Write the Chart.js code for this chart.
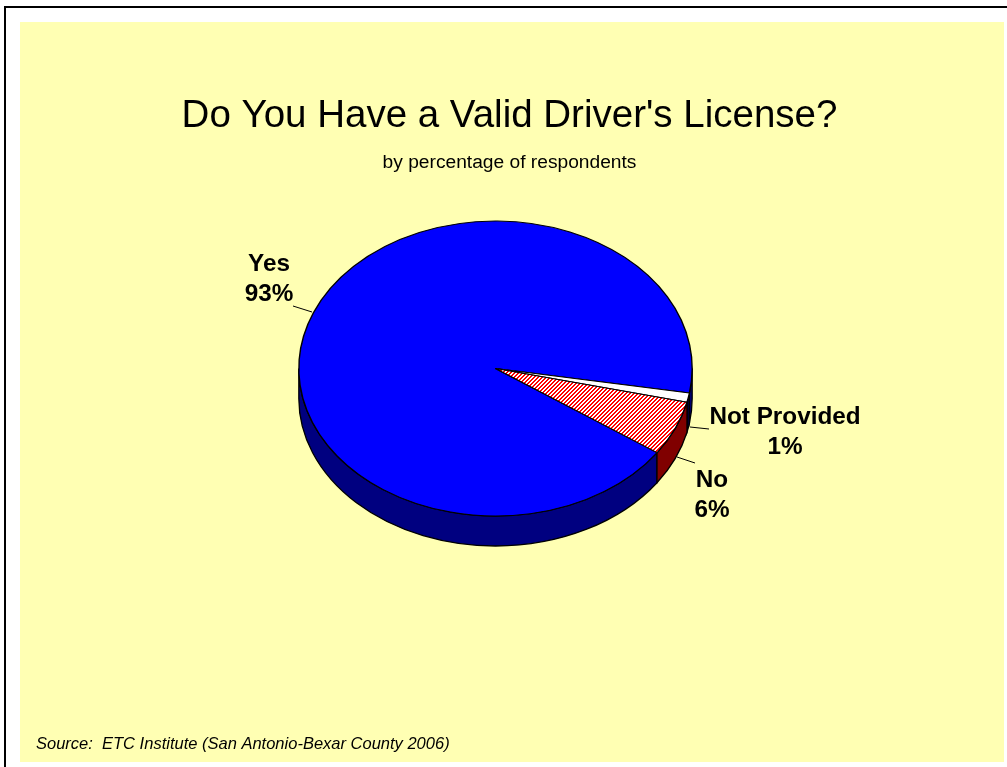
<!DOCTYPE html>
<html>
<head>
<meta charset="utf-8">
<title>Do You Have a Valid Driver's License?</title>
<script src="https://cdn.jsdelivr.net/npm/chart.js@4"></script>
<style>
  html, body { margin: 0; padding: 0; background: #fff; overflow: hidden; }
  #frame { position: absolute; left: 4px; top: 6px; width: 1003px; height: 761px; border-left: 2px solid #000; border-top: 2px solid #000; box-sizing: border-box; }
  #panel { position: absolute; left: 20px; top: 22px; width: 984px; height: 740px; background: #ffffb3; }
  #chart { position: absolute; left: 0; top: 0; }
</style>
</head>
<body>
<div id="frame"></div>
<div id="panel"></div>
<canvas id="chart" width="1007" height="767"></canvas>
<script>
const categories = ['Yes', 'Not Provided', 'No'];
const values = [93, 1, 6];
const titleText = "Do You Have a Valid Driver's License?";
const subtitleText = 'by percentage of respondents';
const sourceText = 'Source:  ETC Institute (San Antonio-Bexar County 2006)';

// look of the tilted pie
const topColors = ['#0000ff', '#ffffff', null];
const wallColors = ['#000080', '#000040', '#800000'];
const tilt = 0.75;
const depth = 30;
const pieX = 495.5;
const pieY = 368.5;

// where the labels and their leader lines go
const labelSpots = [
  { x: 269, y: 264, line: [293, 306, 312, 312] },
  { x: 785, y: 417, line: [690, 427, 709, 429] },
  { x: 712, y: 480, line: [677, 457, 695, 463] }
];

// red and white diagonal stripes, set pixel by pixel so they stay crisp
function hatch() {
  const tile = document.createElement('canvas');
  tile.width = 4;
  tile.height = 4;
  const c = tile.getContext('2d');
  c.fillStyle = '#fff';
  c.fillRect(0, 0, 4, 4);
  c.fillStyle = '#ff0000';
  for (let y = 0; y < 4; y++) {
    for (let x = 0; x < 4; x++) {
      if ((x + y) % 4 < 2) c.fillRect(x, y, 1, 1);
    }
  }
  const p = c.createPattern(tile, 'repeat');
  p.setTransform(new DOMMatrix().scale(1, 1 / tilt));
  return p;
}

const canvas = document.getElementById('chart');
const ctx = canvas.getContext('2d');

// squash the library's pie into an ellipse and give it a side wall
const tiltPlugin = {
  id: 'tiltPlugin',
  beforeDatasetsDraw(chart) {
    const c = chart.ctx;
    const arcs = chart.getDatasetMeta(0).data;
    const cx = arcs[0].x, cy = arcs[0].y;
    c.save();
    // side wall first, only the part facing the viewer
    arcs.forEach((arc, i) => {
      const r = arc.outerRadius;
      [[0, Math.PI], [2 * Math.PI, 3 * Math.PI]].forEach(([lo, hi]) => {
        const a0 = Math.max(arc.startAngle, lo);
        const a1 = Math.min(arc.endAngle, hi);
        if (a1 <= a0) return;
        c.beginPath();
        c.ellipse(pieX, pieY, r, r * tilt, 0, a0, a1);
        c.ellipse(pieX, pieY + depth, r, r * tilt, 0, a1, a0, true);
        c.closePath();
        c.fillStyle = wallColors[i];
        c.fill();
        c.strokeStyle = '#000';
        c.lineWidth = 1.3;
        c.stroke();
      });
    });
    c.restore();
    c.save();
    c.imageSmoothingEnabled = false;
    c.translate(pieX, pieY);
    c.scale(1, tilt);
    c.translate(-cx, -cy);
  },
  afterDatasetsDraw(chart) {
    chart.ctx.restore();
  },
  afterDraw(chart) {
    const c = chart.ctx;
    c.save();
    c.strokeStyle = '#000';
    c.lineWidth = 1;
    c.fillStyle = '#000';
    c.textAlign = 'center';
    c.textBaseline = 'middle';
    c.font = 'bold 24.3px "Liberation Sans"';
    labelSpots.forEach((s, i) => {
      c.beginPath();
      c.moveTo(s.line[0], s.line[1]);
      c.lineTo(s.line[2], s.line[3]);
      c.stroke();
      c.fillText(categories[i], s.x, s.y);
      c.fillText(values[i] + '%', s.x, s.y + 30);
    });
    c.textAlign = 'left';
    c.font = 'italic 16.5px "Liberation Sans"';
    c.fillText(sourceText, 36, 744);
    c.restore();
  }
};

new Chart(ctx, {
  type: 'pie',
  data: {
    labels: categories,
    datasets: [{
      data: values,
      backgroundColor: topColors.map(col => col || hatch()),
      borderColor: '#000',
      borderWidth: 1.4
    }]
  },
  options: {
    responsive: false,
    animation: false,
    rotation: 124.8,
    layout: { padding: { left: 12, right: 0, top: 0, bottom: 196 } },
    plugins: {
      legend: { display: false },
      tooltip: { enabled: false },
      title: {
        display: true,
        text: titleText,
        color: '#000',
        font: { family: '"Liberation Sans"', size: 38.5, weight: 'normal', lineHeight: 1.2 },
        padding: { top: 93, bottom: 12 }
      },
      subtitle: {
        display: true,
        text: subtitleText,
        color: '#000',
        font: { family: '"Liberation Sans"', size: 19.2, weight: 'normal', lineHeight: 1.2 },
        padding: { top: 0, bottom: 2 }
      }
    }
  },
  plugins: [tiltPlugin]
});
</script>
</body>
</html>
